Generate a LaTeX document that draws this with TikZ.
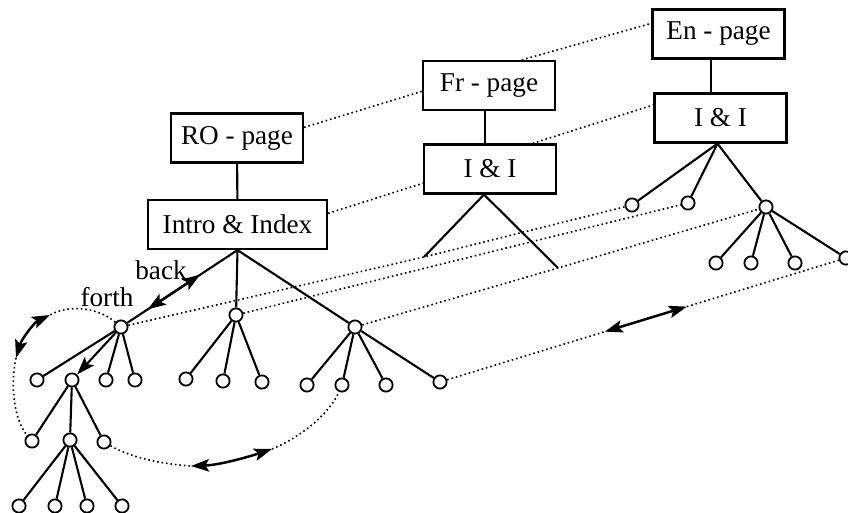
\documentclass[tikz,border=0pt]{standalone}
\usepackage{fontspec}
\setmainfont{Liberation Serif}
\usetikzlibrary{arrows.meta,calc}

\tikzset{
	pagebox/.style={draw, line width=1.1pt, minimum width=66pt, minimum height=24.5pt,
		inner xsep=3pt, font=\fontsize{13.6}{16}\selectfont},
	leaf/.style={circle, draw, fill=white, line width=0.9pt, minimum size=6.6pt, inner sep=0pt},
	edge/.style={line width=1.05pt},
	link/.style={line width=0.8pt, dash pattern=on 0.8pt off 1.45pt},
	navtip/.tip={Stealth[length=9pt,width=6.2pt,inset=1.8pt]},
	nav/.style={line width=1.25pt, {navtip}-{navtip}},
	lbl/.style={inner sep=0pt, font=\fontsize{13.6}{16}\selectfont},
}

\begin{document}
\begin{tikzpicture}[x=0.5pt, y=-0.5pt]
	\useasboundingbox (0,0) rectangle (848,513);
	
	% pages
	\node[pagebox] (ro) at (237,138) {RO - page};
	\node[pagebox, minimum width=89.5pt] (intro) at (237.5,224.5) {Intro \& Index};
	\node[pagebox] (fr) at (489,85.5) {Fr - page};
	\node[pagebox] (frii) at (490,169) {I \& I};
	\node[pagebox] (en) at (718.5,34) {En - page};
	\node[pagebox] (enii) at (720.5,118) {I \& I};
	
	\draw[edge] (ro) -- (intro);
	\draw[edge] ($(fr.south)+(-4,0)$) -- ($(fr.south)+(-4,34)$);
	\draw[edge] ($(en.south)+(-7.5,0)$) -- ($(en.south)+(-7.5,34)$);
	
	% RO tree
	\node[leaf] (l1) at (121,327) {};
	\node[leaf] (m1) at (236,315) {};
	\node[leaf] (r1) at (355,327) {};
	\node[leaf] (la) at (37,380) {};
	\node[leaf] (lb) at (72,380) {};
	\node[leaf] (lc) at (106,380) {};
	\node[leaf] (ld) at (135,380) {};
	\node[leaf] (lba) at (32,441) {};
	\node[leaf] (lbb) at (70,440) {};
	\node[leaf] (lbc) at (104,442) {};
	\node[leaf] (lbba) at (19,506) {};
	\node[leaf] (lbbb) at (55,506) {};
	\node[leaf] (lbbc) at (87,506) {};
	\node[leaf] (lbbd) at (122,506) {};
	\node[leaf] (ma) at (186,379) {};
	\node[leaf] (mb) at (223,381) {};
	\node[leaf] (mc) at (262,382) {};
	\node[leaf] (ra) at (307,385) {};
	\node[leaf] (rb) at (342,385) {};
	\node[leaf] (rc) at (386,385) {};
	\node[leaf] (rd) at (440,382) {};
	
	\draw[edge] (intro.south) -- (l1) (intro.south) -- (m1) (intro.south) -- (r1);
	\draw[edge] (l1) -- (la) (l1) -- (lc) (l1) -- (ld);
	\draw[edge, -{navtip}] (l1) -- (lb);
	\draw[edge] (lb) -- (lba) (lb) -- (lbb) (lb) -- (lbc);
	\draw[edge] (lbb) -- (lbba) (lbb) -- (lbbb) (lbb) -- (lbbc) (lbb) -- (lbbd);
	\draw[edge] (m1) -- (ma) (m1) -- (mb) (m1) -- (mc);
	\draw[edge] (r1) -- (ra) (r1) -- (rb) (r1) -- (rc) (r1) -- (rd);
	
	% Fr tree
	\coordinate (frtop) at ($(frii.south)+(-6,0)$);
	\coordinate (frl) at (424,257);
	\coordinate (frr) at (558,268);
	\draw[edge] (frtop) -- (frl) (frtop) -- (frr);
	
	% En tree
	\coordinate (entop) at ($(enii.south)+(-3,0)$);
	\node[leaf] (e1) at (632,205) {};
	\node[leaf] (e2) at (688,203) {};
	\node[leaf] (e3) at (766,207) {};
	\node[leaf] (ea) at (716,263) {};
	\node[leaf] (eb) at (751,263) {};
	\node[leaf] (ec) at (795,263) {};
	\node[leaf] (ed) at (846,258) {};
	\draw[edge] (entop) -- (e1) (entop) -- (e2) (entop) -- (e3);
	\draw[edge] (e3) -- (ea) (e3) -- (eb) (e3) -- (ec) (e3) -- (ed);
	
	% links between languages
	\draw[link] (ro.9) -- (fr.185);
	\draw[link] (fr.38) -- (en.171);
	\draw[link] (intro.7) -- (frii.192);
	\draw[link] (frii.31) -- (enii.169);
	\draw[link] (l1) -- (frl) -- (e1);
	\draw[link] (m1) -- (e2);
	\draw[link] (r1) -- (frr) -- (e3);
	
	\coordinate (ar1) at ($(rd)!0.406!(ed)$);
	\coordinate (ar2) at ($(rd)!0.608!(ed)$);
	\draw[link] (rd) -- (ar1);
	\draw[nav] (ar1) -- (ar2);
	\draw[link] (ar2) -- (ed);
	
	% back / forth
	\coordinate (bk1) at ($(intro.south)!0.32!(l1)$);
	\coordinate (bk2) at ($(intro.south)!0.77!(l1)$);
	\draw[nav] (bk2) -- (bk1);
	\node[lbl] (backlbl) at (161,270) {back};
	\node[lbl] (forthlbl) at (107,297) {forth};
	
	% jumps inside the tree
	\coordinate (bl1) at (50,315);
	\coordinate (bl2) at (16,358);
	\draw[link] (l1) .. controls (95,305) and (65,306) .. (bl1);
	\draw[nav] (bl1) .. controls (35,322) and (22,338) .. (bl2);
	\draw[link] (bl2) .. controls (10,385) and (14,420) .. (lba);
	
	\coordinate (bb1) at (191,466);
	\coordinate (bb2) at (272,449);
	\draw[link] (lbc) .. controls (130,457) and (160,464) .. (bb1);
	\draw[nav] (bb1) .. controls (220,465) and (248,457) .. (bb2);
	\draw[link] (bb2) .. controls (305,435) and (330,412) .. (rb);
\end{tikzpicture}
\end{document}
